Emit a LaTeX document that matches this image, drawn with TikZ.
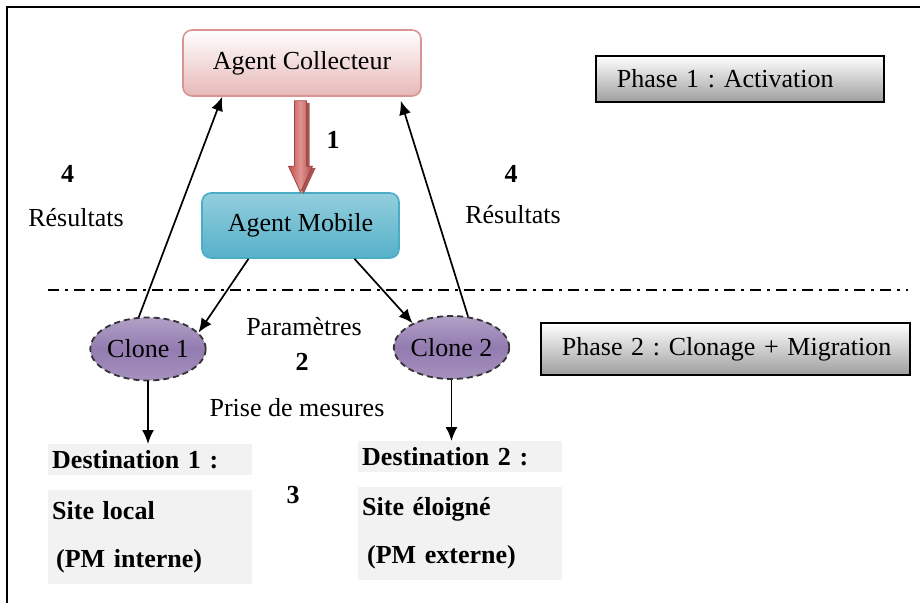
\documentclass[tikz,border=0pt]{standalone}
\usepackage{fontspec}
\setmainfont{Liberation Serif}
\usetikzlibrary{arrows.meta,calc,shapes.geometric,shadows}
\definecolor{collfill}{HTML}{E6B8B7}
\definecolor{colldraw}{HTML}{D99594}
\definecolor{mobtop}{HTML}{93CEDD}
\definecolor{mobmid}{HTML}{4BACC6}
\definecolor{mobdraw}{HTML}{4BACC6}
\definecolor{clonemid}{HTML}{8064A2}
\definecolor{clonelight}{HTML}{B2A1C7}
\definecolor{redarrow}{HTML}{C0504D}
\definecolor{redlight}{HTML}{E09492}
\definecolor{reddark}{HTML}{943634}
\definecolor{destgray}{HTML}{F2F2F2}
\begin{document}
\frenchspacing
\begin{tikzpicture}[x=1pt,y=-1pt,
  font=\fontsize{26}{30}\selectfont\frenchspacing,
  arr/.style={-{Latex[length=14pt,width=12pt]}, line width=1.7pt},
  collbox/.style={rounded corners=9pt, line width=1.6pt, draw=colldraw,
    top color=white, bottom color=collfill, minimum width=238pt,
    minimum height=66pt, inner sep=0pt},
  mobbox/.style={rounded corners=9pt, line width=1.6pt, draw=mobdraw,
    top color=mobtop, bottom color=mobmid!85!mobtop, minimum width=197pt,
    minimum height=65pt, inner sep=0pt},
  clonenode/.style={ellipse, dashed, dash pattern=on 6pt off 4pt, line width=1.8pt,
    draw=black!80, top color=clonelight, bottom color=clonelight!75!clonemid,
    middle color=clonemid!85!white, minimum width=107pt, minimum height=63pt, inner sep=0pt},
  phasebox/.style={draw=black, line width=1.8pt, top color=white,
    bottom color=black!38, inner ysep=0pt, inner xsep=21pt, align=left,
    drop shadow={shadow xshift=1.5pt, shadow yshift=-1.5pt, fill=black!80, opacity=1}},
  desthead/.style={fill=destgray, anchor=north west, minimum width=204pt,
    minimum height=31pt, inner xsep=4pt, inner ysep=0pt, text width=196pt, align=left,
    font=\fontsize{26}{30}\selectfont\bfseries\frenchspacing},
  destbody/.style={fill=destgray, anchor=north west, minimum width=204pt,
    inner xsep=4pt, inner ysep=0pt, text width=196pt, align=left,
    font=\fontsize{26}{48}\selectfont\bfseries\frenchspacing},
  boldlab/.style={font=\fontsize{26}{30}\selectfont\bfseries, anchor=base, inner sep=0pt},
  lab/.style={anchor=base, inner sep=0pt},
  sepline/.style={line width=2pt, dash pattern=on 11pt off 6pt on 3pt off 6pt}
]
\useasboundingbox (0,0) rectangle (920,603);

% frame
\draw[line width=1.5pt] (7,603) -- (7,7) -- (920,7);

% main boxes
\node[collbox] (ac) at (302,63) {Agent Collecteur};
\node[mobbox] (am) at (300.5,225.5) {Agent Mobile};

% phase boxes
\node[phasebox, text width=246pt, minimum height=46pt, anchor=north west] (p1) at (595,55) {\mbox{Phase 1 : Activation}};
\node[phasebox, text width=327pt, minimum height=52pt, anchor=north west] (p2) at (540,322) {\mbox{Phase 2 : Clonage + Migration}};

% separator
\draw[sepline] (48,290) -- (908,290);

% clones
\node[clonenode] (c1) at (148,349) {Clone 1};
\node[clonenode] (c2) at (451.5,347.5) {Clone 2};

% destination boxes
\node[desthead] (d1h) at (48,444) {Destination 1 :};
\node[destbody, minimum height=94pt] (d1b) at (48,490) {Site local\\\hspace*{4pt}(PM interne)};
\node[desthead] (d2h) at (358,441) {Destination 2 :};
\node[destbody, minimum height=93pt] (d2b) at (358,487) {Site éloigné\\\hspace*{5pt}(PM externe)};

% red block arrow (1)
\fill[reddark!85] ($(am.north |- ac.south)+(-3,6)$) -- ($(am.north |- ac.south)+(9,6)$)
  -- ($(am.north)+(9,-24)$) -- ($(am.north)+(15,-24)$) -- ($(am.north)+(3,2)$)
  -- ($(am.north)+(-9,-24)$) -- ($(am.north)+(-3,-24)$) -- cycle;
\path[draw=redarrow!85!black, line width=0.8pt, left color=redarrow, right color=redarrow!90!black,
  middle color=redlight]
  ($(am.north |- ac.south)+(-6,4)$) -- ($(am.north |- ac.south)+(6,4)$)
  -- ($(am.north)+(6,-26)$) -- ($(am.north)+(12,-26)$) -- (am.north)
  -- ($(am.north)+(-12,-26)$) -- ($(am.north)+(-6,-26)$) -- cycle;

% arrows
\draw[arr] ($(am.south)+(-52,0)$) -- (c1.18);
\draw[arr] ($(am.south)+(54,0)$) -- (c2.148);
\draw[arr] (c1.106) -- ($(ac.south west)+(40,0)$);
\draw[arr] (c2.62) -- ($(ac.south east)+(-21,4)$);
\draw[arr] (c1.south) -- (c1.south |- d1h.north);
\draw[arr] (c2.south) -- (c2.south |- d2h.north);

% labels
\node[boldlab] (n1) at (333,148) {1};
\node[boldlab] (n4a) at (67.5,182) {4};
\node[lab] (r1) at (76,226) {Résultats};
\node[boldlab] (n4b) at (511,182) {4};
\node[lab] (r2) at (513,223) {Résultats};
\node[lab] (par) at (304,335) {Paramètres};
\node[boldlab] (n2) at (302,370) {2};
\node[lab] (pm) at (297,416) {Prise de mesures};
\node[boldlab] (n3) at (293,503) {3};
\end{tikzpicture}
\end{document}
